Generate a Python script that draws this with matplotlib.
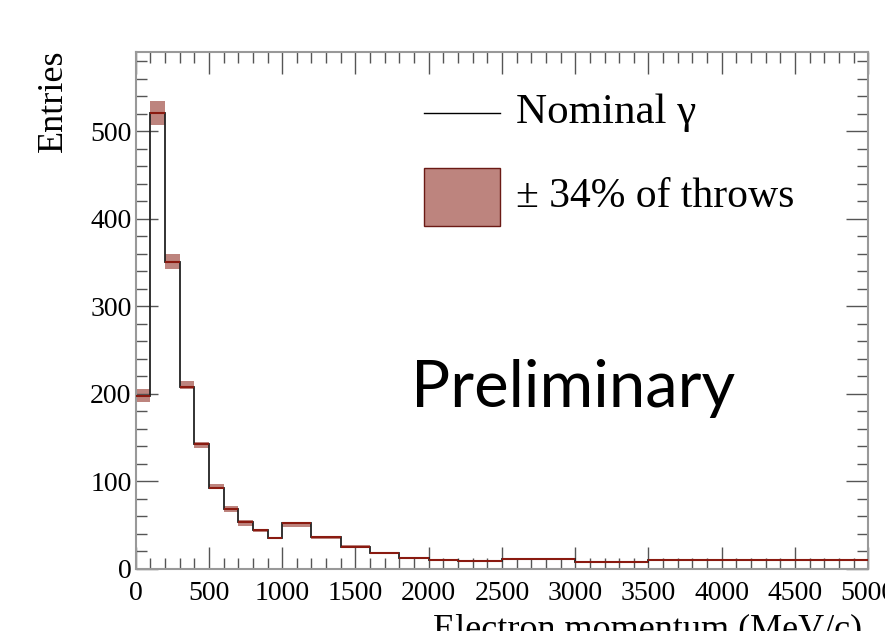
import numpy as np
import matplotlib.pyplot as plt
from matplotlib.patches import Rectangle

# bin edges (MeV/c) and contents
edges = [0, 100, 200, 300, 400, 500, 600, 700, 800, 900, 1000,
         1200, 1400, 1600, 1800, 2000, 2200, 2500, 3000, 3500, 5000]
nominal = [197, 521, 351, 208, 143, 92, 68, 54, 44, 35, 52,
           36, 25, 18, 12, 10, 9.5, 11, 7.6, 10]
band_lo = [191, 507, 342, 205, 138, 91, 65, 49, 42, 34, 48,
           34, 23.6, 17, 11, 9, 8.8, 10, 7, 9.3]
band_hi = [206, 534, 360, 215, 145, 97, 72, 56, 45, 37, 53,
           38, 27, 19.5, 13, 11, 10.2, 12, 8.4, 10.8]

band_col = '#bd847e'
serif = ['Liberation Serif', 'DejaVu Serif']

fig = plt.figure(figsize=(8.85, 6.31), dpi=100)
ax = fig.add_axes([0.1533, 0.0983, 0.8278, 0.8188])

e = np.array(edges, dtype=float)
for i in range(len(nominal)):
    ax.fill_between([e[i], e[i+1]], band_lo[i], band_hi[i], color=band_col, lw=0, zorder=1)
ax.stairs(nominal, edges, color='#222222', lw=1.3, zorder=2)
ax.hlines(nominal, e[:-1], e[1:], color='#8a1a10', lw=1.5, zorder=3)

ax.set_xlim(0, 5000)
ax.set_ylim(0, 590)
ax.set_xticks(np.arange(0, 5001, 500))
ax.set_xticks(np.arange(0, 5001, 100), minor=True)
ax.set_yticks(np.arange(0, 501, 100))
ax.set_yticks(np.arange(0, 581, 20), minor=True)
ax.tick_params(which='both', direction='in', top=True, right=True, color='#555555', width=1)
ax.tick_params(which='major', length=16)
ax.tick_params(which='minor', length=8)
ax.tick_params(axis='x', which='major', pad=9)
ax.tick_params(axis='y', which='major', pad=3)
for s in ax.spines.values():
    s.set_color('#999999')
    s.set_linewidth(1.5)
for lab in ax.get_xticklabels():
    lab.set_family(serif)
    lab.set_fontsize(20)
for lab in ax.get_yticklabels():
    lab.set_family(serif)
    lab.set_fontsize(20)

ax.set_ylabel('Entries', family=serif, fontsize=26, loc='top')
ax.yaxis.set_label_coords(-0.09, 1.005)
ax.set_xlabel('Electron momentum (MeV/c)', family=serif, fontsize=26, loc='right')
ax.xaxis.set_label_coords(0.9915, -0.085)

# legend
ax.plot([0.393, 0.497], [0.8825, 0.8825], color='black', lw=1, transform=ax.transAxes)
ax.text(0.519, 0.8825, 'Nominal γ', transform=ax.transAxes, family=serif, fontsize=31, va='center')
ax.add_patch(Rectangle((0.393, 0.664), 0.104, 0.112, transform=ax.transAxes,
                       facecolor=band_col, edgecolor='#6b1a15', lw=1))
ax.text(0.519, 0.72, '± 34% of throws', transform=ax.transAxes, family=serif, fontsize=30, va='center')

ax.text(0.376, 0.314, 'Preliminary', transform=ax.transAxes, family=['Lato', 'DejaVu Sans'],
        fontsize=47, va='baseline')

fig.savefig('out.png', dpi=100)
